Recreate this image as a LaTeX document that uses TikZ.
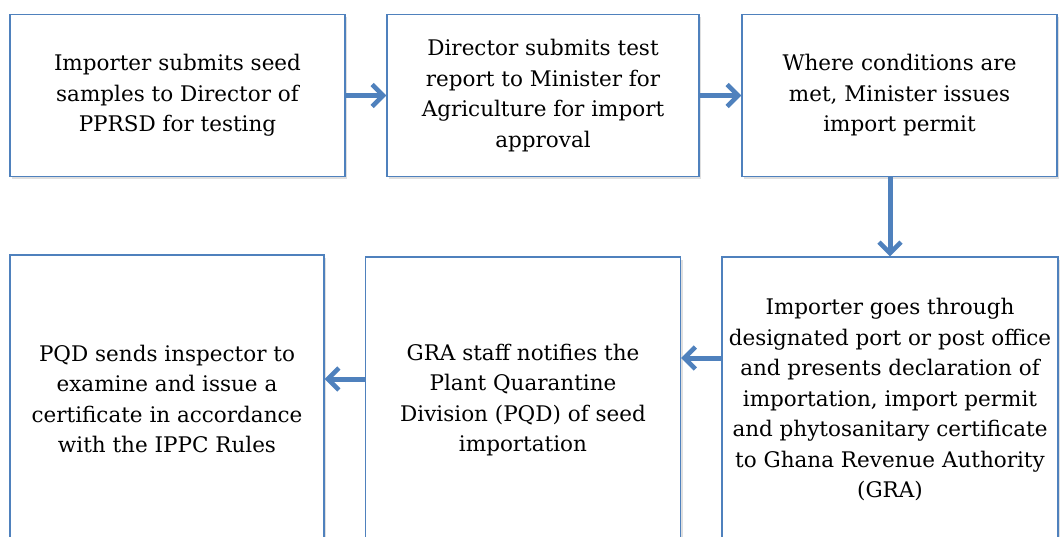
\documentclass[tikz,border=0pt]{standalone}
\usepackage{fontspec}
\setmainfont{DejaVu Serif}
\usetikzlibrary{arrows.meta,shadows}
\definecolor{boxblue}{RGB}{79,129,189}

\begin{document}
\begin{tikzpicture}[x=1pt, y=-1pt]
\tikzstyle{box}=[draw=boxblue, line width=1.4pt, fill=white, align=center,
    font=\fontsize{21.5}{30.5}\selectfont,
    drop shadow={opacity=0.25, shadow xshift=2pt, shadow yshift=-3pt}]
\tikzstyle{arrow}=[draw=boxblue, line width=5pt,
    -{Straight Barb[length=11pt, width=22pt, line width=4.5pt]}]

\clip (0, 0) rectangle (1062, 537);

% top row
\node (box-1) at (177.5, 95.5) [box, minimum width=335pt, minimum height=162pt]
    {Importer submits seed\\samples to Director of\\PPRSD for testing};
\node (box-2) at (543, 95.5) [box, minimum width=312pt, minimum height=162pt]
    {Director submits test\\report to Minister for\\Agriculture for import\\approval};
\node (box-3) at (899.5, 95.5) [box, minimum width=315pt, minimum height=162pt]
    {Where conditions are\\met, Minister issues\\import permit};

% bottom row (runs off the page)
\node (box-4) at (167, 399) [box, minimum width=314pt, minimum height=288pt]
    {PQD sends inspector to\\examine and issue a\\certificate in accordance\\with the IPPC Rules};
\node (box-5) at (523, 400) [box, minimum width=315pt, minimum height=286pt]
    {GRA staff notifies the\\Plant Quarantine\\Division (PQD) of seed\\importation};
\node (box-6) at (890, 400) [box, minimum width=336pt, minimum height=286pt]
    {Importer goes through\\designated port or post office\\and presents declaration of\\importation, import permit\\and phytosanitary certificate\\to Ghana Revenue Authority\\(GRA)};

\draw [arrow] (box-1) -- (box-2);
\draw [arrow] (box-2) -- (box-3);
\draw [arrow] (box-3.south -| box-6.north) -- (box-6.north);
\draw [arrow] ([yshift=42pt]box-6.west) -- ([yshift=42pt]box-6.west -| box-5.east);
\draw [arrow] ([yshift=21pt]box-5.west) -- ([yshift=21pt]box-5.west -| box-4.east);

\end{tikzpicture}
\end{document}
